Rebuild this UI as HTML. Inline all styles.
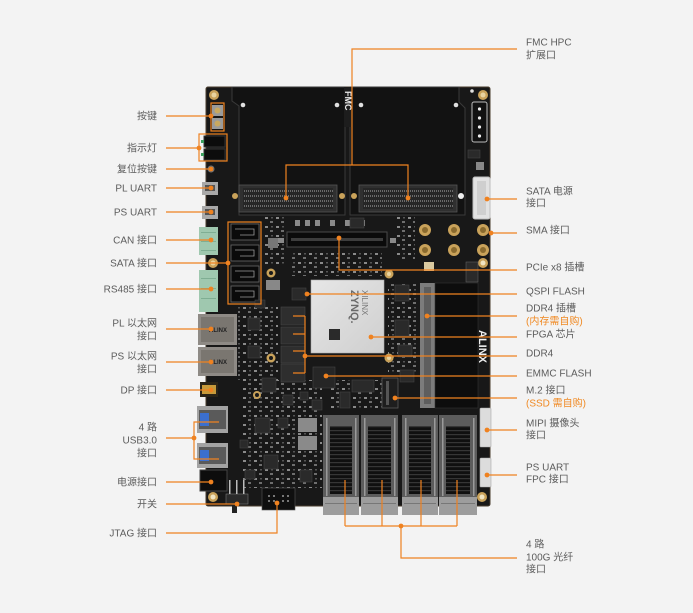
<!DOCTYPE html>
<html><head><meta charset="utf-8">
<style>
html,body{margin:0;padding:0;background:#f3f3f3;}
svg{display:block}
text{font-family:"Liberation Sans","Noto Sans CJK SC",sans-serif;font-size:10px;fill:#5c5c5c}
text.o{fill:#f08a24}
.l{stroke:#ef8220;stroke-width:1.2;fill:none}
.d{fill:#ef8220}
.c{fill:#2a2a2a;stroke:#444;stroke-width:.6}
.p{fill:#8a8a8a}
.g{fill:#c9a25a}
</style></head><body>
<svg width="693" height="613" viewBox="0 0 693 613" xmlns="http://www.w3.org/2000/svg">
<defs>
<pattern id="fins" width="4" height="4" patternUnits="userSpaceOnUse"><rect width="4" height="4" fill="#101010"/><rect y="2" width="4" height="1.2" fill="#363636"/></pattern>
<pattern id="pins" width="2" height="5" patternUnits="userSpaceOnUse"><rect width="2" height="5" fill="#262626"/><rect width="1" height="2" fill="#6a6a6a"/></pattern>
<pattern id="smd" width="11" height="9" patternUnits="userSpaceOnUse"><rect x="1" y="1" width="3" height="2" fill="#8a8a8a"/><rect x="6" y="5" width="3" height="2" fill="#6e6e6e"/><rect x="7" y="1" width="2" height="1.5" fill="#555"/></pattern>
<linearGradient id="fpga" x1="0" y1="0" x2="1" y2="1"><stop offset="0" stop-color="#e6e6e6"/><stop offset="1" stop-color="#cfcfcf"/></linearGradient>
</defs>
<rect width="693" height="613" fill="#f3f3f3"/>

<!-- BOARD -->
<rect x="206" y="87" width="284" height="419" rx="2" fill="#181818" stroke="#4a3d2e" stroke-width="1"/>
<!-- texture -->
<rect x="240" y="380" width="82" height="108" fill="url(#smd)"/>
<rect x="238" y="306" width="40" height="74" fill="url(#smd)"/>
<rect x="388" y="282" width="30" height="92" fill="url(#smd)"/>
<rect x="262" y="216" width="24" height="50" fill="url(#smd)"/>
<rect x="395" y="212" width="20" height="50" fill="url(#smd)"/>
<rect x="330" y="380" width="60" height="30" fill="url(#smd)"/>
<rect x="292" y="250" width="90" height="26" fill="url(#smd)"/>
<!-- FMC panels -->
<path d="M232 87 V101 L239 106 V215 H345 V87 Z" fill="#121212" stroke="#3a3a3a" stroke-width="1"/>
<path d="M350 87 V215 H465 V108 L459 102 V87 Z" fill="#121212" stroke="#3a3a3a" stroke-width="1"/>
<rect x="344" y="87" width="8" height="40" fill="#1d1d1d"/>
<text transform="translate(345,91) rotate(90)" style="fill:#e8e8e8;font-size:9px;font-weight:bold">FMC</text>
<!-- corner holes -->
<circle cx="214" cy="95" r="5" class="g"/><circle cx="214" cy="95" r="2.5" fill="#e8d3a0"/>
<circle cx="483" cy="95" r="5" class="g"/><circle cx="483" cy="95" r="2.5" fill="#e8d3a0"/>
<circle cx="483" cy="263" r="5" class="g"/><circle cx="483" cy="263" r="2.5" fill="#f0e4c2"/>
<circle cx="213" cy="263" r="5" class="g"/><circle cx="213" cy="263" r="2.5" fill="#e8d3a0"/>
<circle cx="271" cy="273" r="4.5" class="g"/><circle cx="271" cy="273" r="2" fill="#1a1a1a"/>
<circle cx="389" cy="274" r="4.5" class="g"/><circle cx="389" cy="274" r="2" fill="#e8d3a0"/>
<circle cx="389" cy="358" r="4.5" class="g"/><circle cx="389" cy="358" r="2" fill="#e8d3a0"/>
<circle cx="271" cy="358" r="4.5" class="g"/><circle cx="271" cy="358" r="2" fill="#1a1a1a"/>
<circle cx="257" cy="395" r="4" class="g"/><circle cx="257" cy="395" r="2" fill="#1a1a1a"/>
<circle cx="213" cy="497" r="5" class="g"/><circle cx="213" cy="497" r="2.5" fill="#f0e4c2"/>
<circle cx="482" cy="497" r="5" class="g"/><circle cx="482" cy="497" r="2.5" fill="#f0e4c2"/>
<circle cx="243" cy="105" r="2.3" fill="#e0e0e0"/><circle cx="337" cy="105" r="2.3" fill="#e0e0e0"/>
<circle cx="361" cy="105" r="2.3" fill="#e0e0e0"/><circle cx="456" cy="105" r="2.3" fill="#e0e0e0"/>
<circle cx="472" cy="91" r="1.8" fill="#e0e0e0"/>

<!-- FMC connectors -->
<rect x="239" y="185" width="98" height="27" fill="#303030" stroke="#555" stroke-width=".8"/>
<rect x="243" y="188" width="90" height="21" fill="url(#pins)"/>
<rect x="359" y="185" width="98" height="27" fill="#303030" stroke="#555" stroke-width=".8"/>
<rect x="363" y="188" width="90" height="21" fill="url(#pins)"/>
<circle cx="235" cy="196" r="3" class="g"/><circle cx="342" cy="196" r="3" class="g"/>
<circle cx="354" cy="196" r="3" class="g"/><circle cx="461" cy="196" r="3" fill="#eee"/>

<!-- top right 4-pin power -->
<rect x="472" y="102" width="15" height="40" rx="2" fill="#111" stroke="#bbb" stroke-width="1"/>
<circle cx="479.5" cy="109" r="1.6" fill="#eee"/><circle cx="479.5" cy="118" r="1.6" fill="#eee"/>
<circle cx="479.5" cy="127" r="1.6" fill="#eee"/><circle cx="479.5" cy="136" r="1.6" fill="#eee"/>
<rect x="468" y="150" width="12" height="8" class="c"/><rect x="476" y="162" width="8" height="8" fill="#888"/>
<!-- SATA power -->
<rect x="473" y="177" width="17" height="42" rx="2" fill="#e2e2e2" stroke="#bdbdbd"/>
<rect x="477" y="181" width="9" height="34" fill="#cfcfcf"/>
<!-- SMA -->
<g>
<circle cx="425" cy="230" r="6" class="g"/><circle cx="425" cy="230" r="3" fill="#8a6a2e"/>
<circle cx="454" cy="230" r="6" class="g"/><circle cx="454" cy="230" r="3" fill="#8a6a2e"/>
<circle cx="483" cy="230" r="6" class="g"/><circle cx="483" cy="230" r="3" fill="#8a6a2e"/>
<circle cx="425" cy="250" r="6" class="g"/><circle cx="425" cy="250" r="3" fill="#8a6a2e"/>
<circle cx="454" cy="250" r="6" class="g"/><circle cx="454" cy="250" r="3" fill="#8a6a2e"/>
<circle cx="483" cy="250" r="6" class="g"/><circle cx="483" cy="250" r="3" fill="#8a6a2e"/>
</g>
<rect x="424" y="262" width="10" height="9" fill="#d9c9a0"/>
<rect x="466" y="262" width="12" height="20" fill="#2a2a2a" stroke="#666" stroke-width=".5"/>

<!-- PCIe slot -->
<rect x="287" y="232" width="100" height="15" fill="#0b0b0b" stroke="#4a4a4a"/>
<rect x="291" y="238" width="92" height="3" fill="#3d3d3d"/>
<g fill="#8a8a8a">
<rect x="295" y="220" width="5" height="6"/><rect x="305" y="220" width="5" height="6"/><rect x="315" y="220" width="5" height="6"/>
<rect x="330" y="220" width="5" height="6"/><rect x="345" y="220" width="5" height="6"/><rect x="360" y="220" width="5" height="6"/>
<rect x="278" y="238" width="6" height="5"/><rect x="390" y="238" width="6" height="5"/>
</g>
<rect x="350" y="218" width="14" height="10" class="c"/>
<rect x="268" y="238" width="10" height="10" fill="#777"/>

<!-- left top: buttons & LEDs -->
<rect x="212" y="105" width="11" height="11" fill="#9a9a9a"/><circle cx="217.5" cy="110.5" r="3" fill="#c8a860"/>
<rect x="212" y="118" width="11" height="11" fill="#9a9a9a"/><circle cx="217.5" cy="123.5" r="3" fill="#c8a860"/>
<rect x="204" y="136" width="21" height="11" fill="#0c0c0c" stroke="#333"/>
<rect x="204" y="149" width="21" height="11" fill="#0c0c0c" stroke="#333"/>
<rect x="201" y="140" width="3" height="3" fill="#3ca060"/><rect x="201" y="153" width="3" height="3" fill="#3ca060"/>
<circle cx="211" cy="169" r="3" fill="#333" stroke="#777"/>
<!-- micro usb -->
<rect x="202" y="182" width="16" height="13" fill="#a9a9a9"/><rect x="205" y="185" width="10" height="6" fill="#555"/>
<rect x="202" y="206" width="16" height="13" fill="#a9a9a9"/><rect x="205" y="209" width="10" height="6" fill="#555"/>
<!-- terminals -->
<rect x="199" y="227" width="19" height="28" fill="#9fc8af"/>
<rect x="199" y="270" width="19" height="42" fill="#9fc8af"/>
<g fill="#7fae93"><rect x="201" y="232" width="15" height="1"/><rect x="201" y="241" width="15" height="1"/><rect x="201" y="250" width="15" height="1"/>
<rect x="201" y="278" width="15" height="1"/><rect x="201" y="288" width="15" height="1"/><rect x="201" y="298" width="15" height="1"/></g>
<!-- SATA connectors -->
<g fill="#0a0a0a" stroke="#6a6a6a" stroke-width=".8">
<rect x="231" y="224" width="28" height="16"/><rect x="231" y="245" width="28" height="16"/>
<rect x="231" y="266" width="28" height="16"/><rect x="231" y="286" width="28" height="16"/>
</g>
<g fill="none" stroke="#9a9a9a" stroke-width=".8">
<path d="M235 229 H254 V235 H240"/><path d="M235 250 H254 V256 H240"/><path d="M235 271 H254 V277 H240"/><path d="M235 291 H254 V297 H240"/>
</g>
<!-- ethernet -->
<rect x="198" y="314" width="39" height="31" fill="#8e8a85"/>
<rect x="201" y="317" width="33" height="25" fill="#7a7670"/>
<text x="218" y="332" text-anchor="middle" style="font-size:6px;fill:#222;font-weight:bold">ALINX</text>
<rect x="198" y="347" width="39" height="29" fill="#8e8a85"/>
<rect x="201" y="350" width="33" height="23" fill="#7a7670"/>
<text x="218" y="364" text-anchor="middle" style="font-size:6px;fill:#222;font-weight:bold">ALINX</text>
<!-- DP -->
<rect x="200" y="382" width="18" height="15" fill="#2a2418"/><rect x="202" y="385" width="14" height="9" fill="#c79a3a"/>
<!-- USB3 -->
<rect x="197" y="406" width="31" height="27" fill="#a3a3a3"/><rect x="199" y="410" width="27" height="19" fill="#5a5a5a"/><rect x="200" y="413" width="9" height="13" fill="#3b6fcf"/>
<rect x="197" y="443" width="31" height="25" fill="#a3a3a3"/><rect x="199" y="447" width="27" height="17" fill="#5a5a5a"/><rect x="200" y="450" width="9" height="11" fill="#3b6fcf"/>
<!-- power jack -->
<rect x="200" y="470" width="27" height="21" fill="#0d0d0d" stroke="#444"/>
<!-- switch -->
<rect x="226" y="494" width="22" height="10" fill="#2a2a2a" stroke="#777" stroke-width=".6"/>
<rect x="229" y="480" width="1.5" height="14" fill="#bbb"/><rect x="236" y="480" width="1.5" height="14" fill="#bbb"/><rect x="243" y="480" width="1.5" height="14" fill="#bbb"/>
<rect x="232" y="504" width="5" height="9" fill="#222"/>
<!-- JTAG -->
<rect x="262" y="488" width="33" height="22" fill="#0f0f0f" stroke="#555" stroke-width=".6"/>
<g fill="#777"><rect x="268" y="495" width="2" height="2"/><rect x="273" y="495" width="2" height="2"/><rect x="282" y="495" width="2" height="2"/><rect x="287" y="495" width="2" height="2"/>
<rect x="268" y="500" width="2" height="2"/><rect x="273" y="500" width="2" height="2"/><rect x="282" y="500" width="2" height="2"/><rect x="287" y="500" width="2" height="2"/></g>

<!-- misc ICs -->
<g class="c">
<rect x="248" y="318" width="12" height="12"/><rect x="248" y="346" width="12" height="12"/>
<rect x="262" y="378" width="14" height="14"/><rect x="255" y="418" width="15" height="15"/>
<rect x="264" y="455" width="14" height="14"/><rect x="283" y="395" width="10" height="10"/>
<rect x="245" y="470" width="10" height="9"/><rect x="300" y="470" width="12" height="12"/>
<rect x="255" y="300" width="10" height="8"/><rect x="292" y="288" width="14" height="12"/>
<rect x="340" y="392" width="10" height="16"/><rect x="352" y="380" width="22" height="12"/>
<rect x="312" y="400" width="10" height="10"/><rect x="240" y="440" width="8" height="8"/>
<rect x="300" y="392" width="8" height="8"/><rect x="278" y="418" width="10" height="10"/>
<rect x="395" y="285" width="14" height="16"/><rect x="395" y="320" width="14" height="16"/>
<rect x="398" y="345" width="14" height="12"/><rect x="400" y="370" width="14" height="12"/>
</g>
<g class="p">
<rect x="298" y="418" width="19" height="14"/><rect x="298" y="436" width="19" height="14"/>
<rect x="266" y="280" width="14" height="10" fill="#888"/>
</g>

<!-- DDR chips -->
<g fill="#2e2e2e" stroke="#474747" stroke-width=".6">
<rect x="281" y="307" width="24" height="18"/><rect x="281" y="327" width="24" height="17"/>
<rect x="281" y="346" width="24" height="17"/><rect x="281" y="364" width="24" height="18"/>
</g>
<!-- FPGA -->
<rect x="311" y="280" width="73" height="73" fill="url(#fpga)" stroke="#aaa" stroke-width=".6"/>
<rect x="329" y="329" width="11" height="11" fill="#2a2a2a"/>
<text transform="translate(362,290) rotate(90)" style="font-size:8px;fill:#777">XILINX</text>
<text transform="translate(351,290) rotate(90)" style="font-size:11px;fill:#6a6a6a;font-weight:bold">ZYNQ.</text>
<!-- EMMC, M.2 -->
<rect x="313" y="367" width="22" height="21" fill="#262626" stroke="#444" stroke-width=".6"/>
<rect x="382" y="378" width="16" height="30" fill="#1e1e1e" stroke="#5a5a5a" stroke-width=".8"/>
<rect x="386" y="381" width="3" height="24" fill="#555"/>
<!-- DIMM -->
<rect x="420" y="283" width="15" height="125" fill="#7c7c7c"/>
<rect x="424" y="287" width="7" height="117" fill="#5e5e5e"/>
<rect x="435" y="283" width="43" height="125" fill="#0d0d0d" stroke="#333" stroke-width=".6"/>
<text transform="translate(479,330) rotate(90)" style="font-size:11px;fill:#f0f0f0;font-weight:bold">ALINX</text>
<!-- MIPI & FPC -->
<rect x="480" y="408" width="11" height="39" rx="1" fill="#dcdcdc" stroke="#aaa" stroke-width=".6"/>
<rect x="480" y="458" width="11" height="29" rx="1" fill="#dcdcdc" stroke="#aaa" stroke-width=".6"/>

<!-- QSFP cages -->
<g>
<rect x="323" y="415" width="36" height="100" fill="#5c5c5c"/><rect x="330" y="426" width="22" height="68" fill="url(#fins)"/>
<rect x="323" y="497" width="36" height="18" fill="#9d9d9d"/><rect x="325" y="503" width="32" height="1" fill="#777"/>
<rect x="326" y="418" width="1.5" height="78" fill="#9a9a9a"/><rect x="355" y="418" width="1.5" height="78" fill="#9a9a9a"/>
<rect x="361" y="415" width="37" height="100" fill="#5c5c5c"/><rect x="368" y="426" width="23" height="68" fill="url(#fins)"/>
<rect x="361" y="497" width="37" height="18" fill="#9d9d9d"/><rect x="363" y="503" width="33" height="1" fill="#777"/>
<rect x="364" y="418" width="1.5" height="78" fill="#9a9a9a"/><rect x="394" y="418" width="1.5" height="78" fill="#9a9a9a"/>
<rect x="402" y="415" width="36" height="100" fill="#5c5c5c"/><rect x="409" y="426" width="22" height="68" fill="url(#fins)"/>
<rect x="402" y="497" width="36" height="18" fill="#9d9d9d"/><rect x="404" y="503" width="32" height="1" fill="#777"/>
<rect x="405" y="418" width="1.5" height="78" fill="#9a9a9a"/><rect x="434" y="418" width="1.5" height="78" fill="#9a9a9a"/>
<rect x="439" y="415" width="38" height="100" fill="#5c5c5c"/><rect x="446" y="426" width="24" height="68" fill="url(#fins)"/>
<rect x="439" y="497" width="38" height="18" fill="#9d9d9d"/><rect x="441" y="503" width="34" height="1" fill="#777"/>
<rect x="442" y="418" width="1.5" height="78" fill="#9a9a9a"/><rect x="473" y="418" width="1.5" height="78" fill="#9a9a9a"/>
</g>

<!-- ===== LEADER LINES ===== -->
<g class="l">
<path d="M166 116 H211"/><rect x="211" y="103" width="13" height="28"/>
<path d="M166 148 H199"/><rect x="199" y="134" width="28" height="27"/>
<path d="M166 169 H211"/>
<path d="M166 188 H211"/>
<path d="M166 212 H211"/>
<path d="M166 240 H211"/>
<path d="M166 263 H228"/><rect x="228" y="222" width="33" height="82"/>
<path d="M166 289 H211"/>
<path d="M166 329 H211"/>
<path d="M166 362 H211"/>
<path d="M166 390 H211"/>
<path d="M166 438 H194"/><path d="M219 422 H194 V459 H219"/>
<path d="M166 482 H211"/>
<path d="M166 504 H237"/>
<path d="M166 533 H277 V503"/>
<path d="M517 49 H352 V165"/><path d="M286 198 V165 H408 V198"/>
<path d="M487 199 H517"/>
<path d="M491 233 H517"/>
<path d="M339 238 V270 H517"/>
<path d="M307 294 H517"/>
<path d="M427 316 H517"/>
<path d="M371 337 H517"/>
<path d="M293 316 H305 M293 334 H305 M293 351 H305 M293 373 H305 M305 316 V373 M305 356 H517"/>
<path d="M326 376 H517"/>
<path d="M395 398 H517"/>
<path d="M487 430 H517"/>
<path d="M487 475 H517"/>
<path d="M345 480 V526 M382 480 V526 M421 480 V526 M457 480 V526 M345 526 H457 M401 526 V558 H517"/>
</g>
<g class="d">
<circle cx="211" cy="116" r="2.4"/><circle cx="199" cy="148" r="2.4"/><circle cx="211" cy="169" r="2.4"/>
<circle cx="211" cy="188" r="2.4"/><circle cx="211" cy="212" r="2.4"/><circle cx="211" cy="240" r="2.4"/>
<circle cx="228" cy="263" r="2.4"/><circle cx="211" cy="289" r="2.4"/><circle cx="211" cy="329" r="2.4"/>
<circle cx="211" cy="362" r="2.4"/><circle cx="211" cy="390" r="2.4"/><circle cx="194" cy="438" r="2.4"/>
<circle cx="211" cy="482" r="2.4"/><circle cx="237" cy="504" r="2.4"/><circle cx="277" cy="503" r="2.4"/>
<circle cx="286" cy="198" r="2.4"/><circle cx="408" cy="198" r="2.4"/>
<circle cx="487" cy="199" r="2.4"/><circle cx="491" cy="233" r="2.4"/><circle cx="339" cy="238" r="2.4"/>
<circle cx="307" cy="294" r="2.4"/><circle cx="427" cy="316" r="2.4"/><circle cx="371" cy="337" r="2.4"/>
<circle cx="305" cy="356" r="2.4"/><circle cx="326" cy="376" r="2.4"/><circle cx="395" cy="398" r="2.4"/>
<circle cx="487" cy="430" r="2.4"/><circle cx="487" cy="475" r="2.4"/><circle cx="401" cy="526" r="2.4"/>
</g>

<!-- ===== LABELS ===== -->
<g text-anchor="end">
<text x="157" y="119.5">按键</text>
<text x="157" y="151.5">指示灯</text>
<text x="157" y="172.5">复位按键</text>
<text x="157" y="191.5">PL UART</text>
<text x="157" y="215.5">PS UART</text>
<text x="157" y="243.5">CAN 接口</text>
<text x="157" y="266.5">SATA 接口</text>
<text x="157" y="292.5">RS485 接口</text>
<text x="157" y="326.5">PL 以太网</text>
<text x="157" y="339.5">接口</text>
<text x="157" y="359.5">PS 以太网</text>
<text x="157" y="372.5">接口</text>
<text x="157" y="393.5">DP 接口</text>
<text x="157" y="430.5">4 路</text>
<text x="157" y="443.5">USB3.0</text>
<text x="157" y="456.5">接口</text>
<text x="157" y="485.5">电源接口</text>
<text x="157" y="507.5">开关</text>
<text x="157" y="536.5">JTAG 接口</text>
</g>
<g>
<text x="526" y="45.5">FMC HPC</text>
<text x="526" y="58.5">扩展口</text>
<text x="526" y="194.5">SATA 电源</text>
<text x="526" y="206.5">接口</text>
<text x="526" y="233.5">SMA 接口</text>
<text x="526" y="270.5">PCIe x8 插槽</text>
<text x="526" y="294.5">QSPI FLASH</text>
<text x="526" y="311.5">DDR4 插槽</text>
<text x="526" y="324.5" class="o">(内存需自购)</text>
<text x="526" y="337.5">FPGA 芯片</text>
<text x="526" y="356.5">DDR4</text>
<text x="526" y="376.5">EMMC FLASH</text>
<text x="526" y="393.5">M.2 接口</text>
<text x="526" y="406.5" class="o">(SSD 需自购)</text>
<text x="526" y="426.5">MIPI 摄像头</text>
<text x="526" y="438.5">接口</text>
<text x="526" y="470.5">PS UART</text>
<text x="526" y="482.5">FPC 接口</text>
<text x="526" y="547.5">4 路</text>
<text x="526" y="560.5">100G 光纤</text>
<text x="526" y="572.5">接口</text>
</g>
</svg>
</body></html>
